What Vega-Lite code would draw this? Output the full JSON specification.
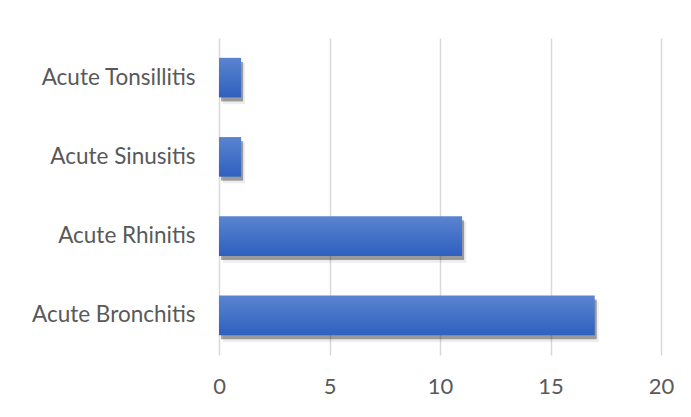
{
  "$schema": "https://vega.github.io/schema/vega-lite/v6.json",
  "autosize": {"type": "none"},
  "width": 442,
  "height": 317,
  "padding": {"left": 219, "top": 38, "right": 30, "bottom": 62},
  "background": "#ffffff",
  "data": {
    "values": [
      {"condition": "Acute Tonsillitis", "count": 1},
      {"condition": "Acute Sinusitis", "count": 1},
      {"condition": "Acute Rhinitis", "count": 11},
      {"condition": "Acute Bronchitis", "count": 17}
    ]
  },
  "encoding": {
    "y": {
      "field": "condition",
      "type": "nominal",
      "sort": ["Acute Tonsillitis", "Acute Sinusitis", "Acute Rhinitis", "Acute Bronchitis"],
      "scale": {"paddingInner": 0.5, "paddingOuter": 0.25},
      "axis": {
        "title": null,
        "domain": false,
        "ticks": false,
        "labelPadding": 24,
        "labelFont": "Lato",
        "labelFontSize": 22.5,
        "labelColor": "#595959"
      }
    },
    "x": {
      "field": "count",
      "type": "quantitative",
      "scale": {"domain": [0, 20], "nice": false},
      "axis": {
        "title": null,
        "values": [0, 5, 10, 15, 20],
        "domain": false,
        "ticks": false,
        "grid": true,
        "gridColor": "#d9d9d9",
        "gridWidth": 1.5,
        "labelFlush": false,
        "labelPadding": 21,
        "labelFont": "Lato",
        "labelFontSize": 22,
        "labelColor": "#595959"
      }
    }
  },
  "layer": [
    {
      "mark": {"type": "bar", "color": "#000000", "opacity": 0.07, "xOffset": 4, "yOffset": 6, "height": 41}
    },
    {
      "mark": {"type": "bar", "color": "#000000", "opacity": 0.35, "xOffset": 2, "yOffset": 4}
    },
    {
      "mark": {
        "type": "bar",
        "color": {
          "gradient": "linear",
          "x1": 0, "y1": 0, "x2": 0, "y2": 1,
          "stops": [
            {"offset": 0, "color": "#5a84d0"},
            {"offset": 1, "color": "#2f60c0"}
          ]
        }
      }
    }
  ],
  "config": {
    "view": {"stroke": null}
  }
}
